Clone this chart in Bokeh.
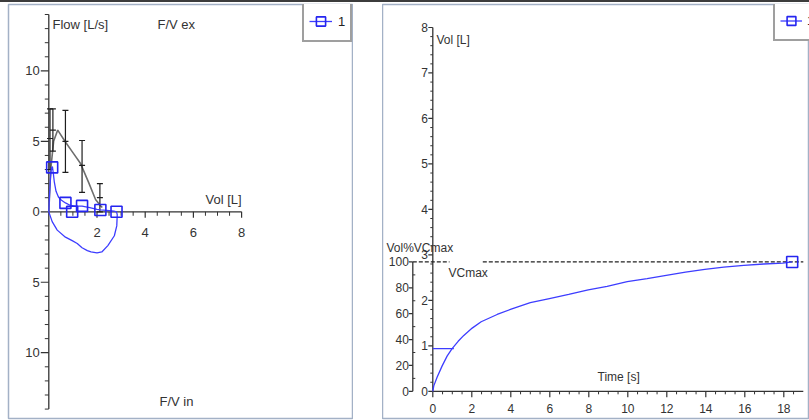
from bokeh.plotting import figure
from bokeh.models import Range1d, Legend, LegendItem, Div
from bokeh.layouts import row, column
from bokeh.embed import file_html
from bokeh.resources import INLINE
from bokeh.core.properties import value

# ---------------- data : flow-volume loop (left panel) ----------------
loop_vol = [0.00, 0.03, 0.07, 0.11, 0.15, 0.19, 0.23, 0.30, 0.40, 0.50, 0.69, 0.90,
            1.10, 1.38, 1.70, 2.00, 2.14, 2.40, 2.70, 2.81,
            2.84, 2.82, 2.72, 2.45, 2.20, 2.00, 1.75, 1.60, 1.38, 1.18, 0.97,
            0.69, 0.35, 0.14, 0.04, 0.00]
loop_flow = [0.0, 1.2, 2.4, 3.1, 3.2, 2.7, 2.1, 1.45, 1.05, 0.85, 0.63, 0.45,
             0.40, 0.40, 0.30, 0.18, 0.13, 0.10, 0.05, 0.0,
             -0.2, -1.0, -1.7, -2.4, -2.85, -2.92, -2.85, -2.75, -2.55, -2.25, -2.05,
             -1.8, -1.3, -0.7, -0.2, 0.0]
key_vol = [0.14, 0.69, 0.97, 1.38, 2.14, 2.81]
key_flow = [3.15, 0.63, 0.0, 0.42, 0.13, 0.0]

pred_vol = [0.00, 0.08, 0.20, 0.37, 0.69, 1.00, 1.31, 1.66, 1.94, 2.14, 2.22]
pred_flow = [0.0, 3.0, 5.0, 5.8, 4.95, 4.2, 3.45, 2.05, 0.87, 0.45, 0.3]

eb_vol = [0.05, 0.17, 0.69, 1.38, 2.12]
eb_low = [3.0, 4.3, 2.8, 1.38, 0.0]
eb_high = [7.3, 7.3, 7.2, 5.06, 2.0]
eb_mid = [5.2, 5.8, 5.0, 3.3, 1.0]

fv_xticks = [2, 4, 6, 8]
fv_xlabels = ["2", "4", "6", "8"]
fv_yticks = [-10, -5, 0, 5, 10]
fv_ylabels = ["10", "5", "0", "5", "10"]

# ---------------- data : volume-time curve (right panel) ----------------
vt_time = [0.0, 0.05, 0.22, 0.48, 0.74, 0.99, 1.30, 1.59, 2.02, 2.48, 3.30, 3.98,
           5.00, 5.98, 6.97, 7.97, 8.94, 9.97, 10.99, 11.97, 12.96, 13.95,
           14.92, 15.95, 16.97, 17.95, 18.43]
vt_vol = [0.0, 0.12, 0.31, 0.56, 0.78, 0.94, 1.10, 1.23, 1.39, 1.53, 1.69, 1.80,
          1.95, 2.04, 2.13, 2.23, 2.31, 2.41, 2.48, 2.55, 2.62, 2.68,
          2.73, 2.77, 2.80, 2.82, 2.845]
fev1_time = [0.0, 1.08]
fev1_vol = [0.94, 0.94]
end_time = [18.43]
end_vol = [2.845]
VCMAX = 2.845

vt_xticks = [0, 2, 4, 6, 8, 10, 12, 14, 16, 18]
vt_yticks = [0, 1, 2, 3, 4, 5, 6, 7, 8]
pct_ticks = [0, 20, 40, 60, 80, 100]

# ---------------- styling ----------------
FONT = "Liberation Sans"
TXT = "#333333"
AX = "#333333"
BLUE = "#3d3dff"
MBLUE = "#2525f0"
FRAME = "#a3b1c6"
SHIFT = 4.5   # px: raise text baselines

# ================= LEFT PANEL =================
# frame spans page x 8..353, y 4..420 ; vol 0 at x 48.3, flow 0 at y 212.3
LXS, LYS = 24.1, 14.16      # pixels per unit


def lx(px):
    return px / LXS


def ly(px):
    return px / LYS


pL = figure(width=353, height=418, output_backend="svg", toolbar_location=None,
            x_range=Range1d((8 - 48.3) / LXS, (353 - 48.3) / LXS),
            y_range=Range1d((212.3 - 420) / LYS, (212.3 - 4) / LYS),
            x_axis_location=None, y_axis_location=None,
            min_border_left=8, min_border_top=2, min_border_right=0, min_border_bottom=0,
            outline_line_color=FRAME, outline_line_width=1.5,
            background_fill_color="white", border_fill_color="white")
pL.xgrid.visible = False
pL.ygrid.visible = False

# y axis (flow)
pL.segment(x0=[0], y0=[-14], x1=[0], y1=[14], line_color=AX, line_width=1.3)
ymin = [v for v in range(-14, 15) if v % 5 != 0]
pL.segment(x0=[-lx(4)] * len(ymin), y0=ymin, x1=[0] * len(ymin), y1=ymin,
           line_color=AX, line_width=1)
pL.segment(x0=[-lx(8)] * len(fv_yticks), y0=fv_yticks, x1=[0] * len(fv_yticks),
           y1=fv_yticks, line_color=AX, line_width=1.2)
pL.text(x=[-lx(9)] * len(fv_yticks), y=[t - ly(4.6 - SHIFT) for t in fv_yticks],
        text=fv_ylabels,
        text_font=value(FONT), text_font_size="13px", text_color=TXT,
        text_align="right", text_baseline="alphabetic")

# x axis (volume)
pL.segment(x0=[0], y0=[0], x1=[8], y1=[0], line_color=AX, line_width=1.3)
xmin = [i * 0.5 for i in range(1, 16) if i % 4 != 0]
pL.segment(x0=xmin, y0=[0] * len(xmin), x1=xmin, y1=[-ly(4)] * len(xmin),
           line_color=AX, line_width=1)
pL.segment(x0=fv_xticks, y0=[0] * 4, x1=fv_xticks, y1=[-ly(6)] * 4,
           line_color=AX, line_width=1.2)
pL.text(x=fv_xticks, y=[-ly(25.4 - SHIFT)] * 4, text=fv_xlabels,
        text_font=value(FONT), text_font_size="13px", text_color=TXT,
        text_align="center", text_baseline="alphabetic")

# titles
pL.text(x=[lx(3.7), lx(108.7), lx(110.7)],
        y=[ly(183.3 + SHIFT), ly(183.3 + SHIFT), -ly(194.7 - SHIFT)],
        text=["Flow [L/s]", "F/V ex", "F/V in"],
        text_font=value(FONT), text_font_size="13px", text_color=TXT,
        text_align="left", text_baseline="alphabetic")
pL.text(x=[8], y=[ly(8.3 + SHIFT)], text=["Vol [L]"],
        text_font=value(FONT), text_font_size="13px", text_color=TXT,
        text_align="right", text_baseline="alphabetic")

# predicted curve + error bars
pL.line(pred_vol, pred_flow, line_color="#6e6e6e", line_width=1.6)
pL.segment(x0=eb_vol, y0=eb_low, x1=eb_vol, y1=eb_high, line_color="#1e1e1e", line_width=1.2)
pL.scatter(eb_vol + eb_vol + eb_vol, eb_low + eb_high + eb_mid, marker="dash", size=6,
           line_color="#1e1e1e", line_width=1.2)

# measured loop
loop_r = pL.line(loop_vol, loop_flow, line_color=BLUE, line_width=1.3)
key_r = pL.scatter(key_vol, key_flow, marker="square", size=11, fill_color=None,
                   line_color=MBLUE, line_width=1.6)

legL = Legend(items=[LegendItem(label="1", renderers=[loop_r, key_r])],
              location=(294, 376), margin=0, padding=5, spacing=0,
              glyph_width=23, glyph_height=28, label_height=28, label_width=7,
              label_standoff=6,
              label_text_font=FONT, label_text_font_size="13px", label_text_color="#222222",
              border_line_color="#404040", border_line_width=2,
              background_fill_color="white", background_fill_alpha=1)
pL.add_layout(legL)

# ================= RIGHT PANEL =================
# frame spans page x 382..809, y 2..418 ; t 0 at x 432.3, vol 0 at y 390.7
RXS, RYS = 19.5, 45.7


def rx(px):
    return px / RXS


def ry(px):
    return px / RYS


pR = figure(width=427, height=418, output_backend="svg", toolbar_location=None,
            x_range=Range1d((382 - 432.3) / RXS, (809 - 432.3) / RXS),
            y_range=Range1d((390.7 - 418) / RYS, (390.7 - 2) / RYS),
            x_axis_location=None, y_axis_location=None,
            min_border_left=0, min_border_top=0, min_border_right=0, min_border_bottom=2,
            outline_line_color=FRAME, outline_line_width=1.5,
            background_fill_color="white", border_fill_color="white")
pR.xgrid.visible = False
pR.ygrid.visible = False

# volume axis
pR.segment(x0=[0], y0=[0], x1=[0], y1=[8], line_color=AX, line_width=1.3)
vmin = [i * 0.2 for i in range(1, 40) if i % 5 != 0]
pR.segment(x0=[-rx(2.5)] * len(vmin), y0=vmin, x1=[0] * len(vmin), y1=vmin,
           line_color=AX, line_width=1)
pR.segment(x0=[-rx(4.5)] * len(vt_yticks), y0=vt_yticks, x1=[0] * len(vt_yticks),
           y1=vt_yticks, line_color=AX, line_width=1.2)
pR.text(x=[-rx(5)] * len(vt_yticks), y=[v - ry(4.3 - SHIFT) for v in vt_yticks],
        text=[str(v) for v in vt_yticks],
        text_font=value(FONT), text_font_size="12px", text_color=TXT,
        text_align="right", text_baseline="alphabetic")

# Vol%VCmax axis
tp = -rx(20)
pct_vol = [p / 100 * VCMAX for p in pct_ticks]
pmin = [p / 100 * VCMAX for p in range(10, 100, 20)]
pR.segment(x0=[tp], y0=[0], x1=[tp], y1=[VCMAX], line_color=AX, line_width=1.3)
pR.segment(x0=[tp - rx(4)] * len(pct_vol), y0=pct_vol, x1=[tp] * len(pct_vol), y1=pct_vol,
           line_color=AX, line_width=1.2)
pR.segment(x0=[tp] * len(pmin), y0=pmin, x1=[tp + rx(2.5)] * len(pmin), y1=pmin,
           line_color=AX, line_width=1)
pR.text(x=[tp - rx(4)] * len(pct_vol), y=[v - ry(4.3 - SHIFT) for v in pct_vol],
        text=[str(p) for p in pct_ticks],
        text_font=value(FONT), text_font_size="12px", text_color=TXT,
        text_align="right", text_baseline="alphabetic")

# time axis
pR.segment(x0=[0], y0=[0], x1=[19], y1=[0], line_color=AX, line_width=1.3)
tmin = [i * 0.5 for i in range(1, 38) if i % 4 != 0]
pR.segment(x0=tmin, y0=[0] * len(tmin), x1=tmin, y1=[-ry(3)] * len(tmin),
           line_color=AX, line_width=1)
pR.segment(x0=vt_xticks, y0=[0] * len(vt_xticks), x1=vt_xticks, y1=[-ry(6)] * len(vt_xticks),
           line_color=AX, line_width=1.2)
pR.text(x=vt_xticks, y=[-ry(22 - SHIFT)] * len(vt_xticks), text=[str(t) for t in vt_xticks],
        text_font=value(FONT), text_font_size="12px", text_color=TXT,
        text_align="center", text_baseline="alphabetic")

# titles
pR.text(x=[rx(3.7), -rx(46.3), rx(15.7), rx(164.7)],
        y=[ry(349 + SHIFT), ry(140 + SHIFT), ry(114 + SHIFT), ry(9.7 + SHIFT)],
        text=["Vol [L]", "Vol%VCmax", "VCmax", "Time [s]"],
        text_font=value(FONT), text_font_size="12px", text_color=TXT,
        text_align="left", text_baseline="alphabetic")

# VCmax dashed reference
pR.segment(x0=[tp, rx(50)], y0=[VCMAX, VCMAX], x1=[rx(16.7), 19], y1=[VCMAX, VCMAX],
           line_color="#222222", line_width=1.2, line_dash="4 2")

# curve
pR.line(fev1_time, fev1_vol, line_color=BLUE, line_width=1.3)
vt_r = pR.line(vt_time, vt_vol, line_color=BLUE, line_width=1.3)
end_r = pR.scatter(end_time, end_vol, marker="square", size=11, fill_color=None,
                   line_color=MBLUE, line_width=1.6)

legR = Legend(items=[LegendItem(label="1", renderers=[vt_r, end_r])],
              location=(391, 377), margin=0, padding=5, spacing=0,
              glyph_width=22, glyph_height=27, label_height=27, label_width=7,
              label_standoff=5,
              label_text_font=FONT, label_text_font_size="13px", label_text_color="#222222",
              border_line_color="#404040", border_line_width=2,
              background_fill_color="white", background_fill_alpha=1)
pR.add_layout(legR)

top_rule = Div(text="", width=809, height=2, margin=0,
               styles={"background-color": "#3c3c3c"})
layout = column(top_rule, row(pL, pR, spacing=29), spacing=0)
open("out.html", "w").write(file_html(layout, INLINE))
